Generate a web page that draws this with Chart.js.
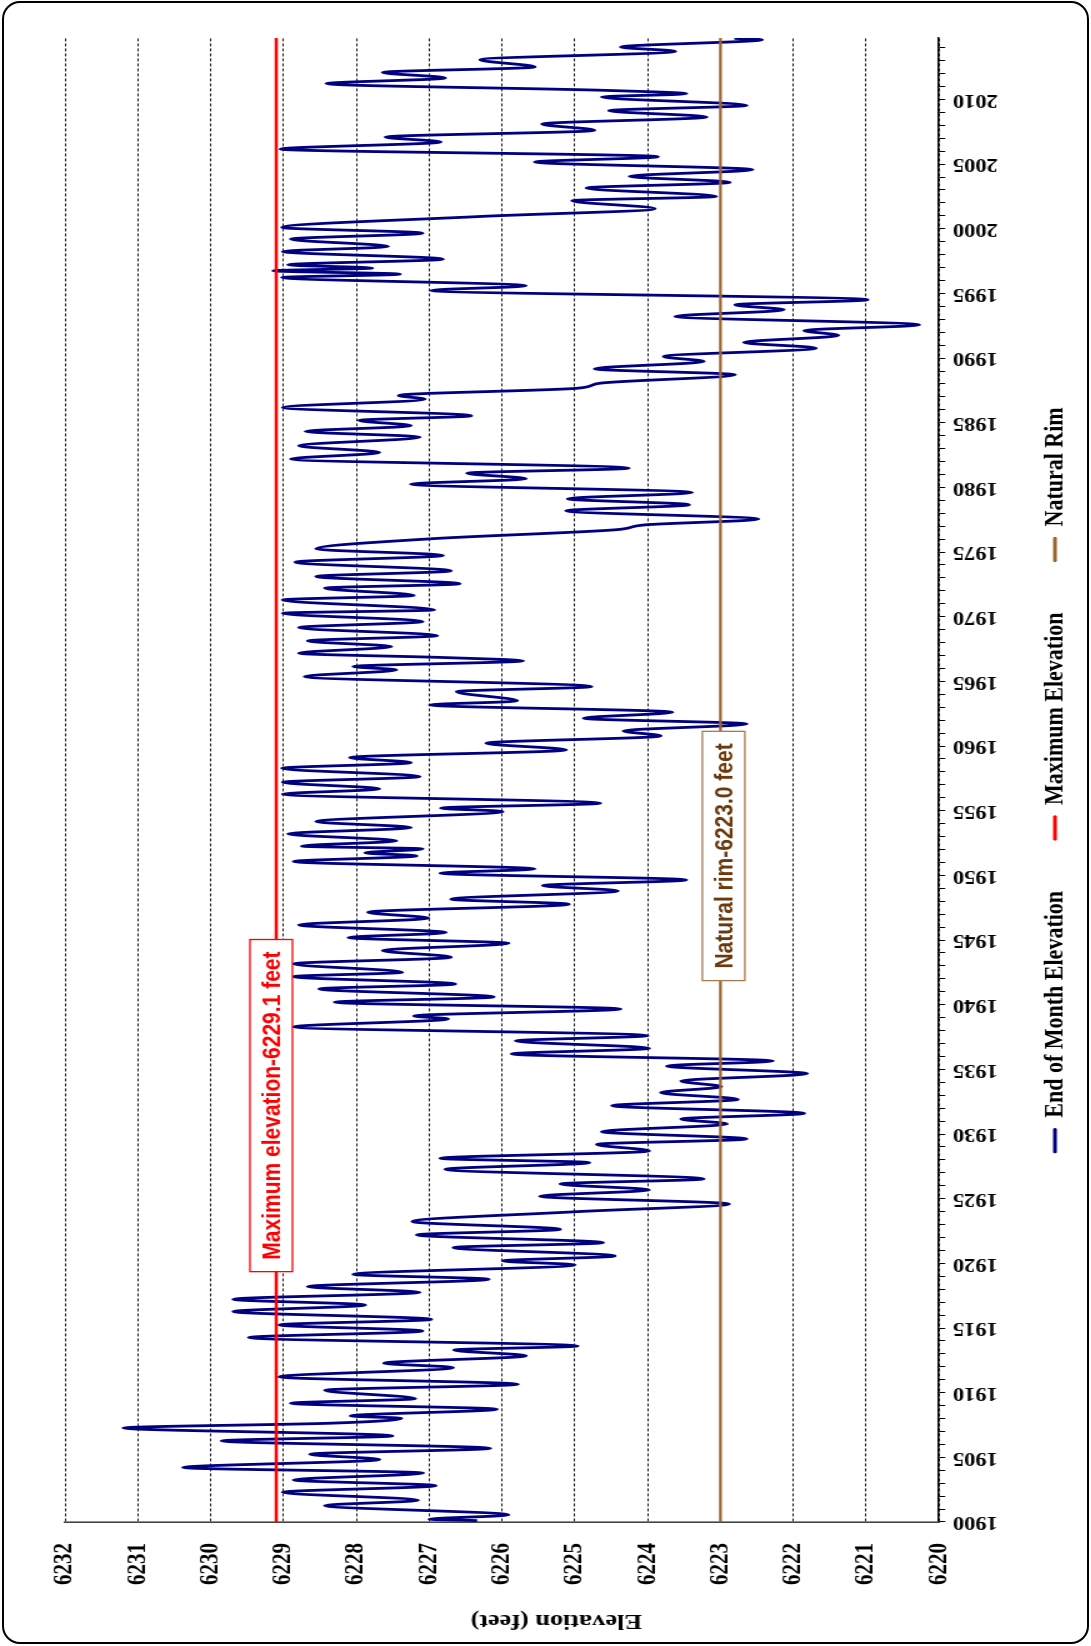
<!DOCTYPE html>
<html>
<head>
<meta charset="utf-8">
<script src="https://cdn.jsdelivr.net/npm/chart.js@4.4.1/dist/chart.umd.min.js"></script>
<style>
  html, body { margin: 0; padding: 0; background: #fff; }
  body { width: 1091px; height: 1646px; position: relative; overflow: hidden; }
  #frame { position: absolute; left: 2px; top: 1px; width: 1087px; height: 1643px;
           box-sizing: border-box; border: 2px solid #000; border-radius: 18px; }
  /* chart is drawn landscape, then turned on its side like the original */
  #rot { position: absolute; left: 0; top: 0; width: 1646px; height: 873px;
         transform-origin: 0 0; transform: translate(0, 1646px) rotate(-90deg) scale(1, 1.25); }
</style>
</head>
<body>
<div id="frame"></div>
<div id="rot"><canvas id="lakeChart" width="1646" height="873"></canvas></div>
<script>
// end of month elevation (turning points)
const years = [
  1900.11, 1900.21, 1900.55, 1901.27, 1901.68, 1902.30, 1902.81, 1903.25, 1903.79, 1904.21,
  1904.83, 1905.24, 1905.70, 1906.27, 1906.66, 1907.27, 1907.64, 1908.02, 1908.20, 1908.72,
  1909.18, 1909.54, 1910.19, 1910.65, 1911.22, 1911.94, 1912.28, 1912.85, 1913.30, 1913.61,
  1914.26, 1914.77, 1915.24, 1915.67, 1916.27, 1916.78, 1917.22, 1917.76, 1918.20, 1918.77,
  1919.15, 1919.88, 1920.19, 1920.57, 1921.22, 1921.60, 1922.20, 1922.63, 1923.23, 1924.00,
  1924.59, 1925.19, 1925.68, 1926.14, 1926.53, 1927.27, 1927.79, 1928.12, 1928.69, 1929.20,
  1929.62, 1930.18, 1930.78, 1931.16, 1931.60, 1932.19, 1932.68, 1933.20, 1933.66, 1934.10,
  1934.67, 1935.26, 1935.65, 1936.19, 1936.63, 1937.20, 1937.61, 1938.28, 1938.90, 1939.13,
  1939.67, 1940.19, 1940.60, 1941.22, 1941.60, 1942.17, 1942.51, 1943.16, 1943.67, 1944.19,
  1944.75, 1945.19, 1945.58, 1946.17, 1946.69, 1947.15, 1947.77, 1948.16, 1948.80, 1949.21,
  1949.65, 1950.17, 1950.50, 1951.07, 1951.51, 1951.74, 1952.05, 1952.26, 1952.67, 1953.21,
  1953.70, 1954.16, 1954.94, 1955.20, 1955.58, 1956.28, 1956.69, 1957.20, 1957.64, 1958.28,
  1958.72, 1959.11, 1959.70, 1960.22, 1960.78, 1961.17, 1961.71, 1962.15, 1962.62, 1963.18,
  1963.49, 1964.21, 1964.60, 1965.37, 1965.89, 1966.15, 1966.59, 1966.84, 1967.18, 1967.69,
  1968.13, 1968.54, 1969.16, 1969.63, 1970.27, 1970.53, 1971.30, 1971.65, 1972.21, 1972.55,
  1973.11, 1973.55, 1974.22, 1974.74, 1975.25, 1976.03, 1976.72, 1977.11, 1977.55, 1978.19,
  1978.66, 1979.12, 1979.61, 1980.25, 1980.67, 1981.10, 1981.49, 1982.19, 1982.70, 1983.22,
  1983.89, 1984.33, 1984.77, 1985.18, 1985.54, 1986.18, 1986.82, 1987.11, 1987.67, 1988.06,
  1988.71, 1989.17, 1989.74, 1990.12, 1990.77, 1991.21, 1991.75, 1992.13, 1992.57, 1993.22,
  1993.73, 1994.12, 1994.51, 1995.23, 1995.59, 1996.23, 1996.49, 1996.75, 1996.96, 1997.21,
  1997.65, 1998.24, 1998.63, 1999.20, 1999.66, 2000.10, 2000.95, 2001.55, 2002.17, 2002.50,
  2003.15, 2003.59, 2004.05, 2004.57, 2005.16, 2005.57, 2006.16, 2006.71, 2007.09, 2007.61,
  2008.10, 2008.64, 2009.13, 2009.54, 2010.19, 2010.44, 2010.70, 2011.22, 2011.66, 2012.09,
  2012.51, 2013.07, 2013.72, 2014.05, 2014.62, 2014.72
];
const elevation = [
  6226.34, 6227.00, 6225.91, 6228.43, 6227.15, 6229.01, 6226.91, 6228.86, 6227.08, 6230.38,
  6227.68, 6228.64, 6226.16, 6229.85, 6227.50, 6231.20, 6228.35, 6227.38, 6228.08, 6226.07,
  6228.90, 6227.19, 6228.43, 6225.78, 6229.06, 6226.67, 6227.62, 6225.67, 6226.66, 6224.96,
  6229.48, 6227.09, 6229.06, 6226.97, 6229.69, 6227.88, 6229.69, 6227.13, 6228.67, 6226.18,
  6228.04, 6225.00, 6225.99, 6224.45, 6226.67, 6224.61, 6227.17, 6225.20, 6227.23, 6224.96,
  6222.88, 6225.48, 6223.98, 6225.20, 6223.23, 6226.78, 6224.80, 6226.85, 6223.98, 6224.70,
  6222.64, 6224.63, 6222.91, 6223.54, 6221.85, 6224.49, 6222.76, 6223.82, 6222.99, 6223.54,
  6221.81, 6223.74, 6222.28, 6225.87, 6223.98, 6225.81, 6224.00, 6228.86, 6226.74, 6227.21,
  6224.37, 6228.30, 6226.11, 6228.51, 6226.64, 6228.86, 6227.37, 6228.86, 6226.70, 6227.64,
  6225.91, 6228.11, 6226.77, 6228.79, 6227.01, 6227.84, 6225.08, 6226.70, 6224.41, 6225.44,
  6223.47, 6226.85, 6225.55, 6228.86, 6227.17, 6227.88, 6227.09, 6228.75, 6227.45, 6228.94,
  6227.25, 6228.55, 6225.99, 6226.84, 6224.65, 6229.01, 6227.68, 6229.01, 6227.13, 6229.02,
  6227.25, 6228.09, 6225.12, 6226.22, 6223.82, 6224.33, 6222.64, 6224.88, 6223.66, 6226.99,
  6225.79, 6226.62, 6224.77, 6228.71, 6227.45, 6228.04, 6225.71, 6226.77, 6228.79, 6227.52,
  6228.67, 6226.89, 6228.79, 6227.09, 6229.01, 6226.93, 6229.01, 6227.21, 6228.43, 6226.58,
  6228.55, 6226.70, 6228.84, 6226.81, 6228.55, 6226.97, 6224.45, 6224.02, 6222.48, 6225.12,
  6223.43, 6225.10, 6223.39, 6227.25, 6225.67, 6226.48, 6224.26, 6228.90, 6227.68, 6228.79,
  6227.13, 6228.70, 6227.25, 6227.96, 6226.42, 6229.01, 6227.06, 6227.42, 6224.96, 6224.65,
  6222.80, 6224.73, 6223.23, 6223.78, 6221.69, 6222.68, 6221.38, 6221.85, 6220.27, 6223.62,
  6222.13, 6222.80, 6220.98, 6226.97, 6225.67, 6229.02, 6227.40, 6229.14, 6227.78, 6228.94,
  6226.81, 6229.01, 6227.56, 6228.90, 6227.09, 6229.02, 6226.30, 6223.90, 6225.04, 6223.06,
  6224.84, 6222.87, 6224.25, 6222.56, 6225.55, 6223.86, 6229.04, 6226.84, 6227.60, 6224.73,
  6225.45, 6223.19, 6224.53, 6222.64, 6224.63, 6223.47, 6224.57, 6228.41, 6226.78, 6227.64,
  6225.55, 6226.30, 6223.62, 6224.37, 6222.43, 6222.81
];

// reference lines
const refYears = [1900, 2014.75];
const maxElevation = [6229.1, 6229.1];
const naturalRim = [6223.0, 6223.0];

const seriesNames = ['End of Month Elevation', 'Maximum Elevation', 'Natural Rim'];
const yearLabels = [1900, 1905, 1910, 1915, 1920, 1925, 1930, 1935, 1940, 1945, 1950, 1955,
                    1960, 1965, 1970, 1975, 1980, 1985, 1990, 1995, 2000, 2005, 2010];

// boxed labels sitting on the two reference lines
const refLabels = [
  { text: 'Maximum elevation-6229.1 feet', year: 1932.2, value: 6229.1, shift: -4, color: '#ff0000', border: '#ff0000' },
  { text: 'Natural rim-6223.0 feet', year: 1951.5, value: 6223.0, shift: 2.5, color: '#6b3a0c', border: '#a57b4f' }
];

const NAVY = '#000080', RED = '#ff0000', BROWN = '#996633';
const serif = '"Liberation Serif", "Times New Roman", serif';

const toPoints = (xs, ys) => xs.map((x, i) => ({ x: x, y: ys[i] }));

const refLabelPlugin = {
  id: 'refLabels',
  afterDatasetsDraw(chart) {
    const { ctx, scales: { x, y } } = chart;
    ctx.save();
    ctx.font = 'bold 21px "Liberation Sans", Arial, sans-serif';
    ctx.textAlign = 'center';
    ctx.textBaseline = 'middle';
    refLabels.forEach(l => {
      const cx = x.getPixelForValue(l.year);
      const cy = y.getPixelForValue(l.value) + l.shift;
      const w = ctx.measureText(l.text).width + 24;
      const h = 34;
      ctx.fillStyle = '#fff';
      ctx.fillRect(cx - w / 2, cy - h / 2, w, h);
      ctx.lineWidth = 1.3;
      ctx.strokeStyle = l.border;
      ctx.strokeRect(cx - w / 2, cy - h / 2, w, h);
      ctx.fillStyle = l.color;
      ctx.fillText(l.text, cx, cy + 1);
    });
    ctx.restore();
  }
};

// axis title sits a bit off centre in the original, so draw it by hand
const axisTitlePlugin = {
  id: 'axisTitle',
  afterDraw(chart) {
    const ctx = chart.ctx;
    ctx.save();
    ctx.translate(26, 445);
    ctx.rotate(-Math.PI / 2);
    ctx.font = 'bold 21px ' + serif;
    ctx.fillStyle = '#000';
    ctx.textAlign = 'center';
    ctx.textBaseline = 'middle';
    ctx.fillText('Elevation (feet)', 0, 0);
    ctx.restore();
  }
};

new Chart(document.getElementById('lakeChart'), {
  type: 'line',
  data: {
    datasets: [
      { label: seriesNames[0], data: toPoints(years, elevation), borderColor: NAVY, backgroundColor: NAVY,
        borderWidth: 2.8, pointRadius: 0, cubicInterpolationMode: 'monotone', order: 3 },
      { label: seriesNames[1], data: toPoints(refYears, maxElevation), borderColor: RED, backgroundColor: RED,
        borderWidth: 2.4, pointRadius: 0, order: 2 },
      { label: seriesNames[2], data: toPoints(refYears, naturalRim), borderColor: BROWN, backgroundColor: BROWN,
        borderWidth: 2.4, pointRadius: 0, order: 1 }
    ]
  },
  options: {
    responsive: false,
    animation: false,
    devicePixelRatio: 1,
    layout: { padding: { left: 0, right: 38, top: 52, bottom: 8 } },
    scales: {
      x: {
        type: 'linear',
        min: 1900, max: 2014.75,
        // keep the axis box thin so the legend sits close, but don't clip the year labels
        afterFit: s => { s.height = 30.8; s._computeLabelArea = () => undefined; },
        grid: { drawOnChartArea: false, drawTicks: true, tickLength: 5, color: '#000', lineWidth: 1 },
        border: { color: '#000', width: 1.5 },
        ticks: {
          stepSize: 1, autoSkip: false, includeBounds: false, maxTicksLimit: 200,
          minRotation: 90, maxRotation: 90, padding: 6, color: '#000',
          font: { family: serif, size: 18, weight: 'bold' },
          callback: v => (yearLabels.includes(v) ? String(v) : '')
        }
      },
      y: {
        min: 6220, max: 6232,
        afterFit: s => { s.width = 124; },
        grid: { color: '#000', lineWidth: 0.9, drawTicks: false },
        border: { color: '#444', width: 1.6, dash: [3, 2] },
        ticks: { stepSize: 1, padding: 21, color: '#000', font: { family: serif, size: 21, weight: 'bold' },
                 callback: v => String(v) }
      }
    },
    plugins: {
      tooltip: { enabled: false },
      legend: {
        position: 'bottom',
        fullSize: false,
        labels: {
          color: '#000',
          font: { family: serif, size: 22, weight: 'bold' },
          boxWidth: 24, boxHeight: 2, padding: 51,
          sort: (a, b) => a.datasetIndex - b.datasetIndex,
          generateLabels: chart => Chart.defaults.plugins.legend.labels.generateLabels(chart)
            .map(it => Object.assign(it, { fillStyle: it.strokeStyle, lineWidth: 1 }))
        }
      }
    }
  },
  plugins: [refLabelPlugin, axisTitlePlugin]
});
</script>
</body>
</html>
